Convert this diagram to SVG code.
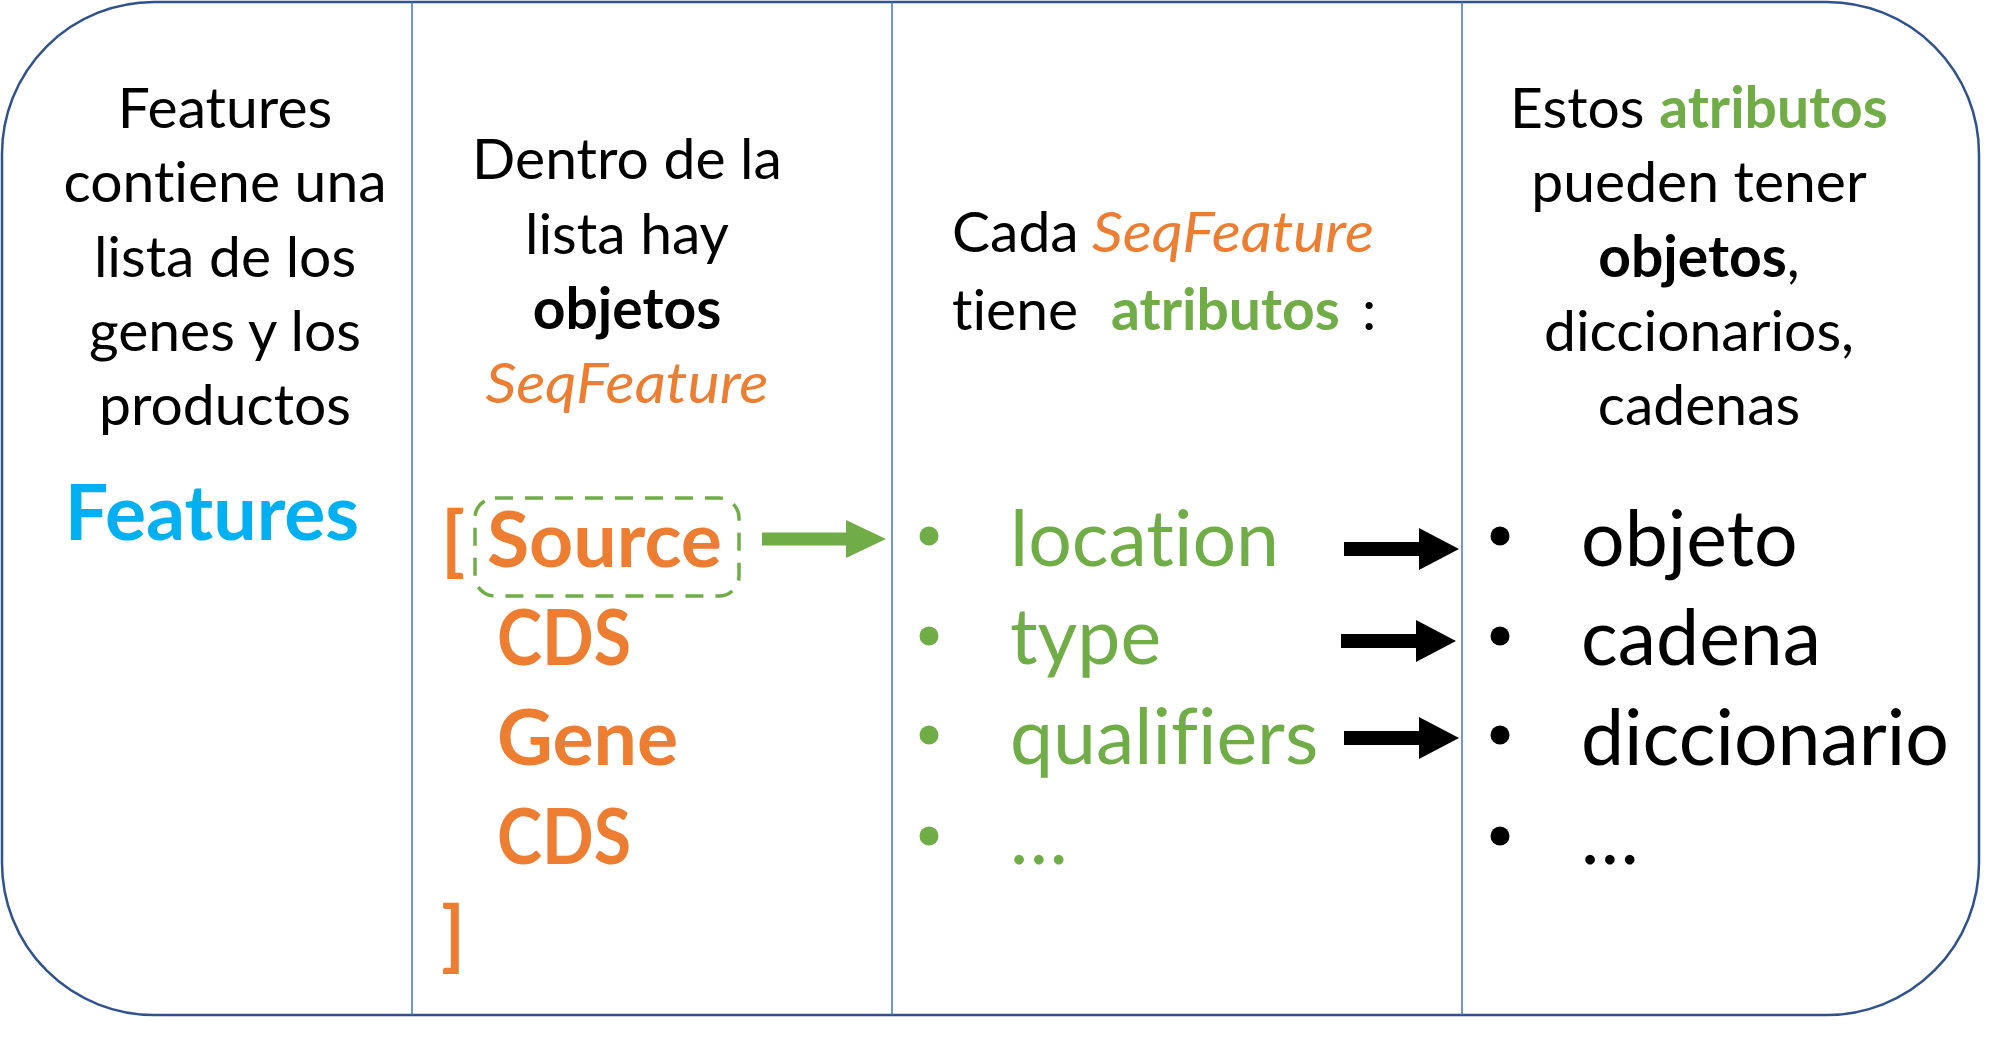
<svg xmlns="http://www.w3.org/2000/svg" width="2002" height="1038" viewBox="0 0 2002 1038">
<style>
.t{font-family:Lato,"Open Sans",sans-serif;font-size:57px;fill:#000;font-variant-ligatures:none;font-feature-settings:"liga" 0,"clig" 0}
.big{font-size:77px}
.b{font-weight:bold}
.i{font-style:italic}
.or{fill:#ED7D31}
.gr{fill:#70AD47}
.bl{fill:#00B0F0}
.c{text-anchor:middle}
.div{stroke:#4472C4;stroke-width:1.5}
</style>
<defs>
<path id="blackArrow" d="M-115,-7 H-40 V-21 L0,0 L-40,21 V7 H-115 Z" fill="#000"/>
<path id="greenArrow" d="M-124,-6.5 H-40 V-19 L0,0 L-40,19 V6.5 H-124 Z" fill="#70AD47"/>
</defs>
<rect x="0" y="0" width="2002" height="1038" fill="#fff"/>
<g id="frame">
<rect x="2" y="2" width="1977" height="1013" rx="152" ry="152" fill="#fff" stroke="#2F528F" stroke-width="2.5"/>
<line class="div" x1="412" y1="2" x2="412" y2="1015"/>
<line class="div" x1="892" y1="2" x2="892" y2="1015"/>
<line class="div" x1="1462" y1="2" x2="1462" y2="1015"/>
</g>
<g id="col1">
<text class="t c" x="225" y="128">Features</text>
<text class="t c" x="225" y="202">contiene una</text>
<text class="t c" x="225" y="277">lista de los</text>
<text class="t c" x="225" y="351">genes y los</text>
<text class="t c" x="225" y="425">productos</text>
<text class="t big b bl c" x="212" y="540">Features</text>
</g>
<g id="col2">
<text class="t c" x="627" y="179">Dentro de la</text>
<text class="t c" x="627" y="254">lista hay</text>
<text class="t b c" x="627" y="329">objetos</text>
<text class="t i or c" x="627" y="403" textLength="283" lengthAdjust="spacingAndGlyphs">SeqFeature</text>
<text class="t big b or" x="441" y="567">[</text>
<rect x="475" y="498" width="264" height="98" rx="20" ry="20" fill="none" stroke="#70AD47" stroke-width="3.5" stroke-dasharray="18,12"/>
<text class="t big b or" x="487" y="567">Source</text>
<text class="t big b or" x="497" y="665" textLength="134" lengthAdjust="spacingAndGlyphs">CDS</text>
<text class="t big b or" x="497" y="765">Gene</text>
<text class="t big b or" x="497" y="864" textLength="134" lengthAdjust="spacingAndGlyphs">CDS</text>
<text class="t big b or" x="441" y="962">]</text>
</g>
<g id="col3">
<text class="t" x="952" y="252">Cada <tspan class="i or" x="1092" textLength="282" lengthAdjust="spacingAndGlyphs">SeqFeature</tspan></text>
<text class="t" x="952" y="330">tiene <tspan class="b gr" x="1111">atributos</tspan><tspan x="1362">:</tspan></text>
<circle class="gr" cx="929" cy="536" r="9.5"/>
<circle class="gr" cx="929" cy="636" r="9.5"/>
<circle class="gr" cx="929" cy="735" r="9.5"/>
<circle class="gr" cx="929" cy="836" r="9.5"/>
<text class="t big gr" x="1010" y="566">location</text>
<text class="t big gr" x="1010" y="664">type</text>
<text class="t big gr" x="1010" y="764">qualifiers</text>
<text class="t big gr" x="1010" y="864">…</text>
</g>
<g id="col4">
<text class="t c" x="1699" y="128">Estos <tspan class="b gr">atributos</tspan></text>
<text class="t c" x="1699" y="202">pueden tener</text>
<text class="t c" x="1699" y="277"><tspan class="b">objetos</tspan>,</text>
<text class="t c" x="1699" y="351">diccionarios,</text>
<text class="t c" x="1699" y="425">cadenas</text>
<circle cx="1500" cy="536" r="9.5"/>
<circle cx="1500" cy="636" r="9.5"/>
<circle cx="1500" cy="735" r="9.5"/>
<circle cx="1500" cy="836" r="9.5"/>
<text class="t big" x="1581" y="566">objeto</text>
<text class="t big" x="1581" y="665">cadena</text>
<text class="t big" x="1581" y="765">diccionario</text>
<text class="t big" x="1581" y="864">…</text>
</g>
<g id="connectors">
<use href="#greenArrow" x="886" y="539"/>
<use href="#blackArrow" x="1459" y="549"/>
<use href="#blackArrow" x="1456" y="641"/>
<use href="#blackArrow" x="1459" y="738"/>
</g>
</svg>
